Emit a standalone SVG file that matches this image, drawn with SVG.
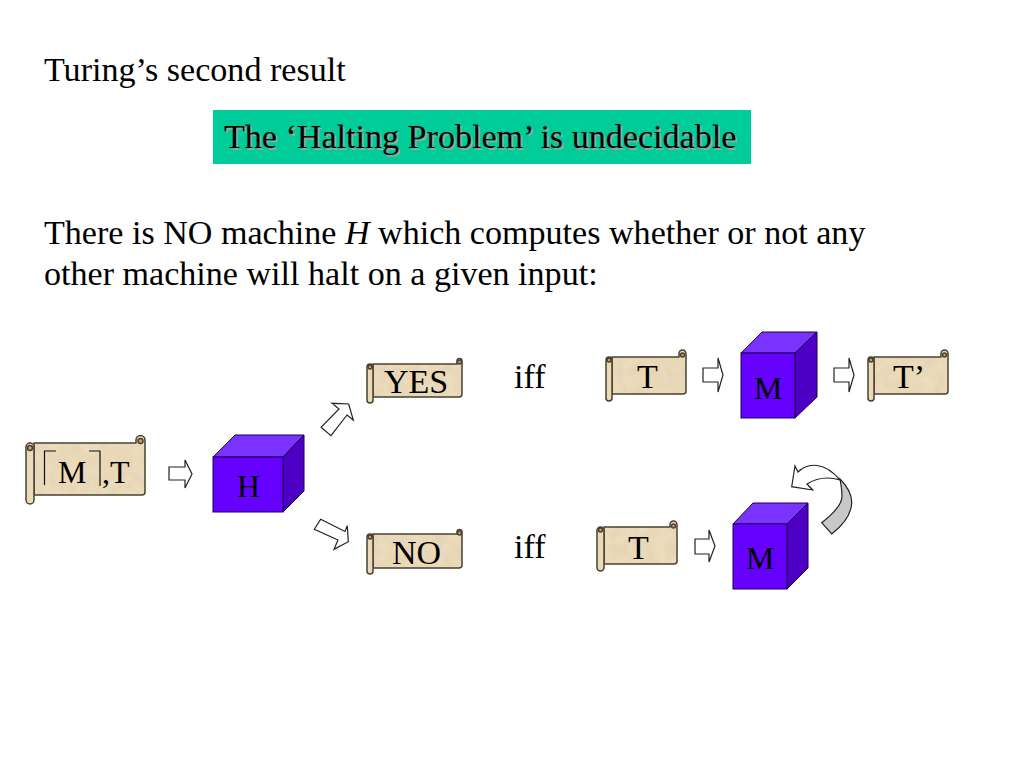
<svg xmlns="http://www.w3.org/2000/svg" width="1024" height="768" viewBox="0 0 1024 768">
<defs>
<filter id="parchment" x="0" y="0" width="100%" height="100%">
<feTurbulence type="fractalNoise" baseFrequency="0.09" numOctaves="3" seed="4" result="n"/>
<feColorMatrix in="n" type="matrix" values="0 0 0 0 0.72  0 0 0 0 0.60  0 0 0 0 0.40  0.9 0 0 0 -0.28" result="m"/>
<feComposite in="m" in2="SourceGraphic" operator="in" result="mm"/>
<feMerge><feMergeNode in="SourceGraphic"/><feMergeNode in="mm"/></feMerge>
</filter>
</defs>
<style>
text{font-family:"Liberation Serif","Times New Roman",serif;font-size:32px;fill:#000}
.h{font-size:34.100px}
.l{font-size:34px}
.b{fill:#ebdcbc;stroke:none;filter:url(#parchment)}
.o{fill:none;stroke:#4a4030;stroke-width:1.5;stroke-linejoin:round}
.r{fill:#ebdab8;stroke:#4a4030;stroke-width:1.5}
.c{fill:#b8a27a;stroke:#4a4030;stroke-width:1.5}
.f{fill:#6600ff;stroke:#1a0050;stroke-width:1}
.t{fill:#7a33ff;stroke:#1a0050;stroke-width:1}
.s{fill:#4d00c4;stroke:#1a0050;stroke-width:1}
.a{fill:#fff;stroke:#222;stroke-width:1.2;stroke-linejoin:miter}
.sh{fill:#93a89f}
</style>
<rect width="1024" height="768" fill="#fff"/>
<g id="headings">
<text class="h" x="44" y="81">Turing’s second result</text>
<text class="h" x="44" y="243.500">There is NO machine <tspan font-style="italic">H</tspan> which computes whether or not any</text>
<text class="h" x="44" y="285">other machine will halt on a given input:</text>
</g>
<g id="banner">
<rect x="213" y="110" width="538" height="54" fill="#00cc99"/>
<text class="h sh" x="225.500" y="149.500">The ‘Halting Problem’ is undecidable</text>
<text class="h" x="224" y="148">The ‘Halting Problem’ is undecidable</text>
</g>
<g id="input-scroll">
<path class="b" d="M34 443H136V440A4.500 4.500 0 0 1 145 440V492Q145 495 142 495H34Z"/>
<path class="o" d="M34 443H136V440A4.500 4.500 0 0 1 145 440V492Q145 495 142 495H34Z"/>
<rect class="r" x="26" y="443" width="8" height="61" rx="4"/>
<circle class="c" cx="30" cy="448" r="2.500"/>
<circle class="c" cx="140.500" cy="441" r="2.500"/>
<path d="M56 451H44.500V485M89 451H100V486" fill="none" stroke="#111" stroke-width="1.200"/>
<text x="58" y="483">M</text>
<text x="102" y="483">,T</text>
</g>
<g id="cube-h">
<path class="t" d="M213 457L235 435H304L283 457Z"/>
<path class="s" d="M283 457L304 435V491L283 512Z"/>
<rect class="f" x="213" y="457" width="70" height="55"/>
<text x="237" y="497">H</text>
</g>
<g id="scroll-yes">
<path class="b" d="M373 364H457V361A2.500 2.500 0 0 1 462 361V394Q462 397 459 397H373Z"/>
<path class="o" d="M373 364H457V361A2.500 2.500 0 0 1 462 361V394Q462 397 459 397H373Z"/>
<rect class="r" x="367" y="364" width="6" height="39" rx="3"/>
<circle class="c" cx="370" cy="367" r="2"/>
<circle class="c" cx="459.500" cy="362" r="2"/>
<text class="l" x="384" y="393">YES</text>
</g>
<g id="scroll-no">
<path class="b" d="M373 534H457V532A2.500 2.500 0 0 1 462 532V565Q462 568 459 568H373Z"/>
<path class="o" d="M373 534H457V532A2.500 2.500 0 0 1 462 532V565Q462 568 459 568H373Z"/>
<rect class="r" x="367" y="534" width="6" height="40" rx="3"/>
<circle class="c" cx="370" cy="537" r="2"/>
<circle class="c" cx="459.500" cy="533" r="2"/>
<text class="l" x="392" y="564">NO</text>
</g>
<g id="iff-top"><text class="l" x="514" y="388">iff</text></g>
<g id="iff-bottom"><text class="l" x="514" y="558">iff</text></g>
<g id="scroll-t-top">
<path class="b" d="M612 357H679V353.500A3.500 3.500 0 0 1 686 353.500V391Q686 394 683 394H612Z"/>
<path class="o" d="M612 357H679V353.500A3.500 3.500 0 0 1 686 353.500V391Q686 394 683 394H612Z"/>
<rect class="r" x="606" y="357" width="6" height="44" rx="3"/>
<circle class="c" cx="609" cy="360" r="2"/>
<circle class="c" cx="682.500" cy="355" r="2"/>
<text class="l" x="637" y="388">T</text>
</g>
<g id="cube-m-top">
<path class="t" d="M741 353L762 332H817L795 353Z"/>
<path class="s" d="M795 353L817 332V397L795 418Z"/>
<rect class="f" x="741" y="353" width="54" height="65"/>
<text x="754" y="399">M</text>
</g>
<g id="scroll-t-prime">
<path class="b" d="M874 357H941V353.500A3.500 3.500 0 0 1 948 353.500V391Q948 394 945 394H874Z"/>
<path class="o" d="M874 357H941V353.500A3.500 3.500 0 0 1 948 353.500V391Q948 394 945 394H874Z"/>
<rect class="r" x="868" y="357" width="6" height="44" rx="3"/>
<circle class="c" cx="871" cy="360" r="2"/>
<circle class="c" cx="944.500" cy="355" r="2"/>
<text class="l" x="893" y="388">T’</text>
</g>
<g id="scroll-t-bottom">
<path class="b" d="M604 527H670V524.500A3.500 3.500 0 0 1 677 524.500V561Q677 564 674 564H604Z"/>
<path class="o" d="M604 527H670V524.500A3.500 3.500 0 0 1 677 524.500V561Q677 564 674 564H604Z"/>
<rect class="r" x="597" y="527" width="7" height="44" rx="3.500"/>
<circle class="c" cx="600.500" cy="530" r="2"/>
<circle class="c" cx="673.500" cy="526" r="2"/>
<text class="l" x="628" y="559">T</text>
</g>
<g id="cube-m-bottom">
<path class="t" d="M733 524L753 503H808L787 524Z"/>
<path class="s" d="M787 524L808 503V568L787 589Z"/>
<rect class="f" x="733" y="524" width="54" height="65"/>
<text x="746" y="569">M</text>
</g>
<g id="connectors">
<path class="a" d="M169 467H185V460L192 474L185 488V480H169Z"/>
<path class="a" d="M321 427.300L339 409L332 403.300L348.700 404L353.300 420L347 415L331 435.700Z"/>
<path class="a" d="M314.300 529.300L320.700 519.300L345 531.500L347.300 525.700L348.300 541.700L334 549.300L338 540Z"/>
<path class="a" d="M703 368H718V358L723 375L718 392V382H703Z"/>
<path class="a" d="M834 368H849V358L854 375L849 392V382H834Z"/>
<path class="a" d="M695 539H709V530L715 546L709 562V554H695Z"/>
<path class="a" d="M840 480C825 462 808 462 798 472L795 466L791.700 486.700L812.700 490L807 484C818 477 830 477 840 480Z"/>
<path d="M840 479C847 486 852 494 851.700 503C851 516 842 526 831.700 534L821.700 522.700C833 514 842 505 842 496C842 490 841 485 840 479Z" fill="#c8c8c8" stroke="#222" stroke-width="1.200"/>
</g>
</svg>
